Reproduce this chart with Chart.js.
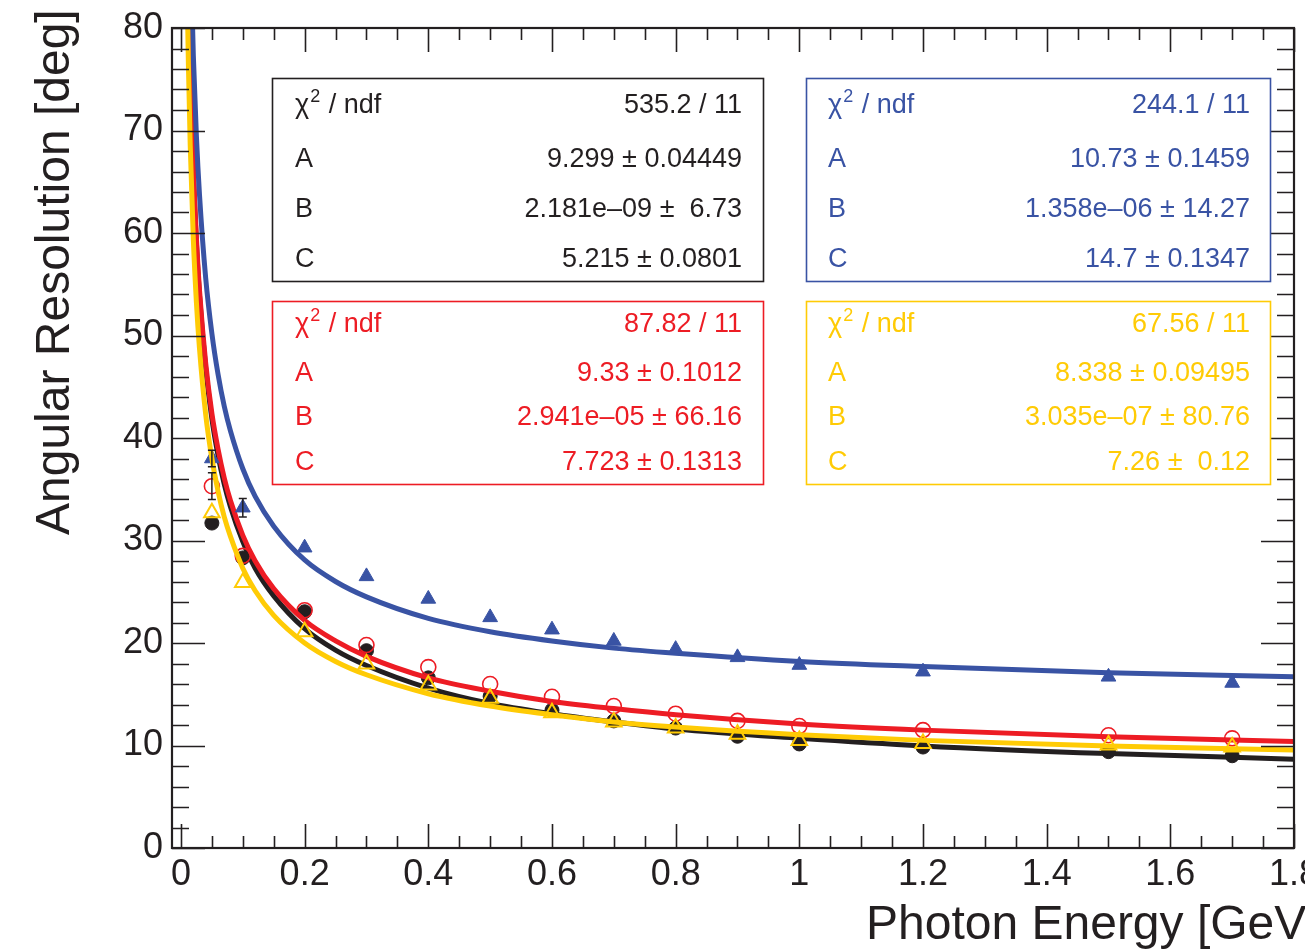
<!DOCTYPE html>
<html>
<head>
<meta charset="utf-8">
<script src="https://cdn.jsdelivr.net/npm/chart.js@4.4.1/dist/chart.umd.min.js"></script>
<style>
html,body{margin:0;padding:0;background:#fff;}
canvas{display:block;}
</style>
</head>
<body>
<canvas id="c" width="1305" height="952"></canvas>
<script>
// ---------- data ----------
const energies = [0.05, 0.1, 0.2, 0.3, 0.4, 0.5, 0.6, 0.7, 0.8, 0.9, 1.0, 1.2, 1.5, 1.7];
const blackPts  = [31.7, 28.3, 23.05, 19.25, 16.6, 14.8, 13.45, 12.4, 11.7, 10.9, 10.15, 9.85, 9.4, 9.0];
const redPts    = [35.3, 28.5, 23.2, 19.8, 17.65, 16.0, 14.75, 13.85, 13.1, 12.4, 11.9, 11.5, 11.0, 10.7];
const bluePts   = [38.0, 33.2, 29.3, 26.5, 24.3, 22.5, 21.3, 20.2, 19.4, 18.6, 17.85, 17.2, 16.7, 16.1];
const yellowPts = [32.7, 25.9, 21.1, 17.95, 15.9, 14.6, 13.2, 12.3, 11.7, 11.1, 10.5, 10.2, 10.05, 9.85];
const blackErr  = [0, 0, 0, 0, 0, 0, 0, 0, 0, 0, 0, 0, 0, 0];
const redErr    = [1.3, 0, 0, 0, 0, 0, 0, 0, 0, 0, 0, 0, 0, 0];
const blueErr   = [0.8, 0.9, 0, 0, 0, 0, 0, 0, 0, 0, 0, 0, 0, 0];
const yellowErr = [0, 0, 0, 0, 0, 0, 0, 0, 0, 0, 0, 0, 0, 0];

// fitted curves
const curveX      = [0.01, 0.012, 0.015, 0.02, 0.025, 0.03, 0.04, 0.05, 0.06, 0.07, 0.08, 0.1, 0.12, 0.15, 0.2, 0.25, 0.3, 0.4, 0.5, 0.6, 0.7, 0.8, 1.0, 1.2, 1.5, 1.8];
const blackCurve  = [93.1, 85.0, 76.1, 66.0, 59.0, 53.9, 46.8, 41.9, 38.3, 35.5, 33.3, 29.9, 27.3, 24.6, 21.4, 19.3, 17.8, 15.6, 14.1, 13.1, 12.3, 11.6, 10.7, 9.96, 9.21, 8.67];
const redCurve    = [93.6, 85.5, 76.6, 66.4, 59.5, 54.4, 47.3, 42.4, 38.9, 36.1, 33.9, 30.5, 28.0, 25.3, 22.2, 20.2, 18.7, 16.6, 15.3, 14.3, 13.6, 13.0, 12.1, 11.5, 10.85, 10.4];
const blueCurve   = [108.3, 99.0, 88.8, 77.3, 69.4, 63.7, 55.6, 50.2, 46.2, 43.1, 40.7, 37.0, 34.3, 31.4, 28.1, 26.0, 24.5, 22.4, 21.1, 20.2, 19.5, 19.0, 18.2, 17.7, 17.1, 16.7];
const yellowCurve = [83.7, 76.5, 68.5, 59.4, 53.2, 48.7, 42.3, 38.0, 34.8, 32.3, 30.4, 27.3, 25.1, 22.7, 20.0, 18.2, 16.9, 15.05, 13.85, 13.0, 12.3, 11.8, 11.05, 10.5, 9.95, 9.56];

// axes
const xTickValues = [0, 0.2, 0.4, 0.6, 0.8, 1.0, 1.2, 1.4, 1.6, 1.8];
const yTickValues = [0, 10, 20, 30, 40, 50, 60, 70, 80];
const xTitle = 'Photon Energy [GeV]';
const yTitle = 'Angular Resolution [deg]';

// fit statistics boxes
const statLabels = ['A', 'B', 'C'];
const statBlack  = ['535.2 / 11', '9.299 ± 0.04449', '2.181e–09 ±  6.73', '5.215 ± 0.0801'];
const statBlue   = ['244.1 / 11', '10.73 ± 0.1459', '1.358e–06 ± 14.27', '14.7 ± 0.1347'];
const statRed    = ['87.82 / 11', '9.33 ± 0.1012', '2.941e–05 ± 66.16', '7.723 ± 0.1313'];
const statYellow = ['67.56 / 11', '8.338 ± 0.09495', '3.035e–07 ± 80.76', '7.26 ±  0.12'];

// ---------- styling ----------
const FONT = '"Liberation Sans", Arial, Helvetica, sans-serif';
const C_BLACK = '#231f20', C_RED = '#ed1c24', C_BLUE = '#3953a4', C_YELLOW = '#ffcb05';

const pts = (xs, ys) => xs.map((x, i) => ({x: x, y: ys[i]}));

function curveDs(ys, color, order) {
  return {data: pts(curveX, ys), showLine: true, borderColor: color, borderWidth: 5,
          pointRadius: 0, cubicInterpolationMode: 'monotone', fill: false, order: order};
}
function pointDs(ys, errs, style, radius, fillColor, color, bw, order) {
  return {data: pts(energies, ys), errs: errs, showLine: false, pointStyle: style, pointRadius: radius,
          pointBackgroundColor: fillColor, pointBorderColor: color, pointBorderWidth: bw, order: order};
}

const boxes = [
  {vals: statBlack,  color: C_BLACK,  l: 272, t: 78,  r: 763, b: 281, base: [113, 167, 217, 267], tx: 295, rx: 742},
  {vals: statBlue,   color: C_BLUE,   l: 806, t: 78,  r: 1270, b: 281, base: [113, 167, 217, 267], tx: 828, rx: 1250},
  {vals: statRed,    color: C_RED,    l: 272, t: 301, r: 763, b: 484, base: [332, 381, 425, 470], tx: 295, rx: 742},
  {vals: statYellow, color: C_YELLOW, l: 806, t: 301, r: 1270, b: 484, base: [332, 381, 425, 470], tx: 828, rx: 1250}
];

const errorBarPlugin = {
  id: 'errbars',
  afterDatasetsDraw(chart) {
    const ctx = chart.ctx, xs = chart.scales.x, ys = chart.scales.y;
    ctx.save();
    chart.data.datasets.forEach(ds => {
      if (!ds.errs) return;
      ctx.strokeStyle = C_BLACK; ctx.lineWidth = 1.5;
      ds.data.forEach((p, i) => {
        const e = ds.errs[i]; if (!e) return;
        const px = xs.getPixelForValue(p.x);
        const y1 = ys.getPixelForValue(p.y + e), y2 = ys.getPixelForValue(p.y - e);
        ctx.beginPath();
        ctx.moveTo(px, y1); ctx.lineTo(px, y2);
        ctx.moveTo(px - 4, y1); ctx.lineTo(px + 4, y1);
        ctx.moveTo(px - 4, y2); ctx.lineTo(px + 4, y2);
        ctx.stroke();
      });
    });
    ctx.restore();
  }
};

const framePlugin = {
  id: 'frame',
  afterDraw(chart) {
    const ctx = chart.ctx, a = chart.chartArea, xs = chart.scales.x, ys = chart.scales.y;
    ctx.save();
    ctx.strokeStyle = C_BLACK;
    // ticks (inward, on all four sides)
    ctx.lineWidth = 1.6;
    ctx.beginPath();
    for (let k = 0; k <= 36; k++) {
      const v = k * 0.05, px = Math.round(xs.getPixelForValue(v)) + 0.5;
      const len = (k % 4 === 0) ? 24 : 12;
      ctx.moveTo(px, a.bottom); ctx.lineTo(px, a.bottom - len);
      ctx.moveTo(px, a.top); ctx.lineTo(px, a.top + len);
    }
    for (let k = 0; k <= 40; k++) {
      const v = k * 2, py = Math.round(ys.getPixelForValue(v)) + 0.5;
      const len = (k % 5 === 0) ? 33 : 17;
      ctx.moveTo(a.left, py); ctx.lineTo(a.left + len, py);
      ctx.moveTo(a.right, py); ctx.lineTo(a.right - len, py);
    }
    ctx.stroke();
    // frame
    ctx.lineWidth = 2.2;
    ctx.strokeRect(a.left, a.top, a.right - a.left, a.bottom - a.top);

    // stat boxes
    boxes.forEach(bx => {
      ctx.fillStyle = '#ffffff';
      ctx.fillRect(bx.l, bx.t, bx.r - bx.l, bx.b - bx.t);
      ctx.strokeStyle = bx.color; ctx.lineWidth = 1.6;
      ctx.strokeRect(bx.l + 0.5, bx.t + 0.5, bx.r - bx.l, bx.b - bx.t);
      ctx.fillStyle = bx.color;
      ctx.textBaseline = 'alphabetic';
      ctx.textAlign = 'left';
      ctx.font = '27px ' + FONT;
      ctx.fillText('χ', bx.tx, bx.base[0]);
      const wc = ctx.measureText('χ').width;
      ctx.font = '18px ' + FONT;
      ctx.fillText('2', bx.tx + wc + 1, bx.base[0] - 11);
      const w2 = ctx.measureText('2').width;
      ctx.font = '27px ' + FONT;
      ctx.fillText(' / ndf', bx.tx + wc + w2 + 2, bx.base[0]);
      statLabels.forEach((lab, i) => ctx.fillText(lab, bx.tx, bx.base[i + 1]));
      ctx.textAlign = 'right';
      bx.vals.forEach((v, i) => ctx.fillText(v, bx.rx, bx.base[i]));
    });

    // axis titles
    ctx.fillStyle = C_BLACK;
    ctx.font = '48px ' + FONT;
    ctx.textAlign = 'left';
    ctx.textBaseline = 'alphabetic';
    ctx.fillText(xTitle, 866, 939);
    ctx.translate(69, 535);
    ctx.rotate(-Math.PI / 2);
    ctx.fillText(yTitle, 0, 0);
    ctx.restore();
  }
};

const chart = new Chart(document.getElementById('c'), {
  type: 'scatter',
  data: {
    datasets: [
      curveDs(yellowCurve, C_YELLOW, 2),
      pointDs(yellowPts, yellowErr, 'triangle', 9, 'rgba(0,0,0,0)', C_YELLOW, 2, 1),
      curveDs(blueCurve, C_BLUE, 4),
      pointDs(bluePts, blueErr, 'triangle', 8.5, C_BLUE, C_BLUE, 1, 3),
      curveDs(redCurve, C_RED, 6),
      pointDs(redPts, redErr, 'circle', 7.5, 'rgba(0,0,0,0)', C_RED, 1.6, 5),
      curveDs(blackCurve, C_BLACK, 8),
      pointDs(blackPts, blackErr, 'circle', 7, C_BLACK, C_BLACK, 1, 7)
    ]
  },
  options: {
    responsive: false,
    animation: false,
    devicePixelRatio: 1,
    layout: {padding: {left: 0, top: 28, right: 7, bottom: 0}},
    plugins: {legend: {display: false}, tooltip: {enabled: false}},
    scales: {
      x: {
        type: 'linear', min: -0.0145, max: 1.8,
        grid: {display: false, drawTicks: false}, border: {display: false},
        ticks: {font: {size: 36, family: FONT}, color: C_BLACK, padding: 5, maxRotation: 0, autoSkip: false,
                callback: v => String(Math.round(v * 10) / 10)},
        afterBuildTicks: s => { s.ticks = xTickValues.map(v => ({value: v})); },
        afterFit: s => { s.height = 104; s.paddingLeft = 0; s.paddingRight = 0; }
      },
      y: {
        type: 'linear', min: 0, max: 80,
        grid: {display: false, drawTicks: false}, border: {display: false},
        ticks: {font: {size: 36, family: FONT}, color: C_BLACK, padding: 9, autoSkip: false,
                callback: v => String(v)},
        afterBuildTicks: s => { s.ticks = yTickValues.map(v => ({value: v})); },
        afterFit: s => { s.width = 172; s.paddingTop = 0; s.paddingBottom = 0; }
      }
    }
  },
  plugins: [errorBarPlugin, framePlugin]
});
</script>
</body>
</html>
